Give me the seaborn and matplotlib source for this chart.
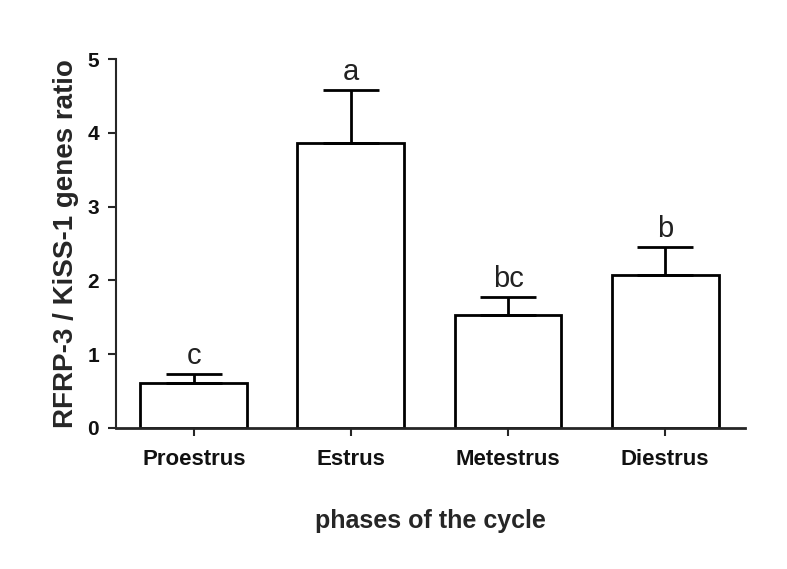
import numpy as np
import pandas as pd
import matplotlib.pyplot as plt
import seaborn as sns

PHASES = ["Proestrus", "Estrus", "Metestrus", "Diestrus"]
RATIO = [0.61, 3.86, 1.53, 2.07]
SEM = [0.12, 0.72, 0.24, 0.38]
LETTERS = ["c", "a", "bc", "b"]

sns.set_style("ticks")
plt.rcParams['font.family'] = ['Liberation Sans', 'DejaVu Sans']

df = pd.DataFrame({"phase": PHASES, "ratio": RATIO, "sem": SEM})

fig = plt.figure(figsize=(7.87, 5.69), dpi=100)
ax = fig.add_axes([0.147, 0.248, 0.8, 0.648])

sns.barplot(data=df, x="phase", y="ratio", color="white", edgecolor="black",
            linewidth=2, width=0.68, errorbar=None, ax=ax)

x = np.arange(len(PHASES))
ax.errorbar(x, df["ratio"], yerr=[np.zeros(len(SEM)), df["sem"]], fmt="none",
            ecolor="black", elinewidth=2, capsize=20, capthick=2, zorder=1)

for xi, v, s, lab in zip(x, RATIO, SEM, LETTERS):
    ax.text(xi, v + s + 0.06, lab, ha="center", va="bottom", fontsize=21,
            color="#222222")

ax.set_xlim(-0.497, 3.51)
ax.set_ylim(0, 5)
ax.set_yticks(range(6))
sns.despine(ax=ax)
ax.spines["left"].set_linewidth(1.5)
ax.spines["bottom"].set_linewidth(2)
ax.tick_params(axis="both", width=1.5, length=6, pad=6)
ax.tick_params(axis="x", labelsize=16, pad=9)
ax.tick_params(axis="y", labelsize=15)
for t in ax.get_xticklabels() + ax.get_yticklabels():
    t.set_fontweight("bold")
    t.set_color("#111111")

ax.set_xlabel("phases of the cycle", fontsize=18, fontweight="bold", labelpad=28)
ax.set_ylabel("RFRP-3 / KiSS-1 genes ratio", fontsize=20, fontweight="bold", labelpad=6)

fig.savefig("out.png", dpi=100)
